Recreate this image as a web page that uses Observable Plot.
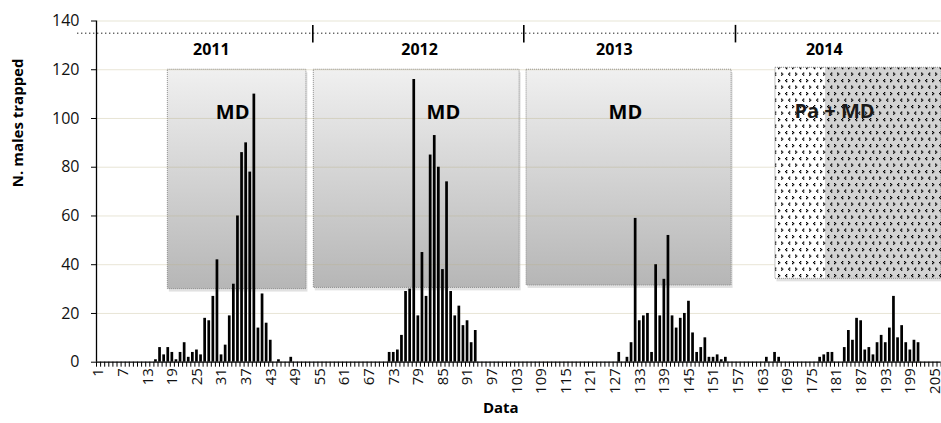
<!DOCTYPE html>
<html>
<head>
<meta charset="utf-8">
<script src="https://cdn.jsdelivr.net/npm/d3@7"></script>
<script src="https://cdn.jsdelivr.net/npm/@observablehq/plot@0.6"></script>
<style>
  body { margin: 0; background: #fff; }
  #chart { width: 941px; height: 423px; }
</style>
</head>
<body>
<svg width="0" height="0" style="position:absolute">
  <defs>
    <linearGradient id="mdGrad" x1="0" y1="0" x2="0" y2="1">
      <stop offset="0" stop-color="#f0f0f0"/>
      <stop offset="1" stop-color="#b6b6b6"/>
    </linearGradient>
    <pattern id="patW" width="14" height="13" patternUnits="userSpaceOnUse">
      <rect width="14" height="13" fill="#ffffff"/>
      <g fill="#000">
        <rect x="2" y="1" width="1.3" height="1.3"/><rect x="1" y="2" width="1.3" height="1.3"/><rect x="2" y="3" width="1.3" height="1.3"/>
        <rect x="8" y="1" width="1.3" height="1.3"/><rect x="9" y="2" width="1.3" height="1.3"/><rect x="8" y="3" width="1.3" height="1.3"/>
        <rect x="5" y="7.5" width="1.3" height="1.3"/><rect x="4" y="8.5" width="1.3" height="1.3"/><rect x="5" y="9.5" width="1.3" height="1.3"/>
        <rect x="11" y="7.5" width="1.3" height="1.3"/><rect x="12" y="8.5" width="1.3" height="1.3"/><rect x="11" y="9.5" width="1.3" height="1.3"/>
      </g>
    </pattern>
    <pattern id="patG" width="14" height="13" patternUnits="userSpaceOnUse">
      <rect width="14" height="13" fill="#d3d3d3"/>
      <g fill="#000">
        <rect x="2" y="1" width="1.3" height="1.3"/><rect x="1" y="2" width="1.3" height="1.3"/><rect x="2" y="3" width="1.3" height="1.3"/>
        <rect x="8" y="1" width="1.3" height="1.3"/><rect x="9" y="2" width="1.3" height="1.3"/><rect x="8" y="3" width="1.3" height="1.3"/>
        <rect x="5" y="7.5" width="1.3" height="1.3"/><rect x="4" y="8.5" width="1.3" height="1.3"/><rect x="5" y="9.5" width="1.3" height="1.3"/>
        <rect x="11" y="7.5" width="1.3" height="1.3"/><rect x="12" y="8.5" width="1.3" height="1.3"/><rect x="11" y="9.5" width="1.3" height="1.3"/>
      </g>
    </pattern>
  </defs>
</svg>
<div id="chart"></div>
<script>
// ---- data (week index along the "Data" axis, males trapped) ----
const weeks2011 = [15,16,17,18,19,20,21,22,23,24,25,26,27,28,29,30,31,32,33,34,35,36,37,38,39,40,41,42,43,45,48];
const counts2011 = [1,6,3,6,4,1,4,8,2,4,5,3,18,17,27,42,3,7,19,32,60,86,90,78,110,14,28,16,9,1,2];
const weeks2012 = [72,73,74,75,76,77,78,79,80,81,82,83,84,85,86,87,88,89,90,91,92,93];
const counts2012 = [4,4,5,11,29,30,116,19,45,27,85,93,80,38,74,29,19,23,15,17,8,13];
const weeks2013 = [128,130,131,132,133,134,135,136,137,138,139,140,141,142,143,144,145,146,147,148,149,150,151,152,153,154];
const counts2013 = [4,2,8,59,17,19,20,4,40,19,34,52,19,14,18,20,25,12,4,6,10,2,2,3,1,2];
const weeks2014 = [164,166,167,177,178,179,180,183,184,185,186,187,188,189,190,191,192,193,194,195,196,197,198,199,200,201];
const counts2014 = [2,4,2,2,3,4,4,6,13,9,18,17,5,6,3,8,11,8,14,27,10,15,8,5,9,8];

const years = ["2011", "2012", "2013", "2014"];
const yearCenter = [28.5, 79.3, 126.8, 178];
const yearLabelLevel = 128.2;
const yearBreaks = [53.26, 104.72, 156.35];
const referenceLevel = 135;

const treatments = ["MD", "MD", "MD", "Pa + MD"];
const treatStart = [17.9, 53.5, 105.4, 166.1];
const treatEnd = [51.7, 103.7, 155.4, 206.6];
const treatTop = [120, 120, 120, 120.8];
const treatBottom = [30, 30.5, 31.5, 34.2];
const treatLabelX = [33.7, 85.1, 129.5, 180.5];
const treatLabelY = [102.5, 102.5, 102.5, 102.9];
const pa2014End = 178.3;

const xTickLabels = d3.range(1, 206, 6);   // 1, 7, ..., 205
const yTicks = [0, 20, 40, 60, 80, 100, 120, 140];
const nWeeks = 206;

// ---- tables built from the arrays ----
const bars = [
  ...weeks2011.map((w, i) => ({w, v: counts2011[i]})),
  ...weeks2012.map((w, i) => ({w, v: counts2012[i]})),
  ...weeks2013.map((w, i) => ({w, v: counts2013[i]})),
  ...weeks2014.map((w, i) => ({w, v: counts2014[i]}))
];
const boxes = treatments.map((t, i) => ({t, x1: treatStart[i], x2: treatEnd[i], y1: treatBottom[i], y2: treatTop[i], lx: treatLabelX[i], ly: treatLabelY[i]}));
const mdBoxes = boxes.slice(0, 3);
const paBox = boxes.slice(3);
const yearRows = years.map((y, i) => ({y, x: yearCenter[i]}));
const boundaries = d3.range(0.5, nWeeks + 1, 1);

const plot = Plot.plot({
  width: 941,
  height: 423,
  marginLeft: 96,
  marginRight: 0.4,
  marginTop: 20.5,
  marginBottom: 61.3,
  x: {type: "linear", domain: [0.5, nWeeks + 0.5], axis: null},
  y: {domain: [0, 140], axis: null},
  style: {fontFamily: "'Open Sans', sans-serif", fontSize: "16px", color: "#000", background: "#fff", overflow: "visible"},
  marks: [
    // shadows
    Plot.rect(mdBoxes, {x1: "x1", x2: "x2", y1: "y1", y2: "y2", fill: "#888", fillOpacity: 0.25, dx: 1.5, dy: 3}),
    // MD boxes
    Plot.rect(mdBoxes, {x1: "x1", x2: "x2", y1: "y1", y2: "y2", fill: "url(#mdGrad)", stroke: "#8a8a8a", strokeWidth: 1, strokeDasharray: "1,1"}),
    // gridlines
    Plot.ruleY(yTicks.slice(1), {stroke: "#b8ae80", strokeOpacity: 0.32, strokeWidth: 1}),
    // Pa + MD box
    Plot.rect(paBox, {x1: "x1", x2: "x2", y1: "y1", y2: "y2", fill: "#888", fillOpacity: 0.25, dx: 1.5, dy: 3}),
    Plot.rect(paBox, {x1: "x1", x2: "x2", y1: "y1", y2: "y2", fill: "url(#patG)"}),
    Plot.rect(paBox, {x1: "x1", x2: pa2014End, y1: "y1", y2: "y2", fill: "url(#patW)"}),
    Plot.rect(paBox, {x1: "x1", x2: "x2", y1: "y1", y2: "y2", fill: "none", stroke: "#8a8a8a", strokeWidth: 1, strokeDasharray: "1,1"}),
    // bars
    Plot.rect(bars, {x1: d => d.w - 0.33, x2: d => d.w + 0.33, y1: 0, y2: "v", fill: "#000"}),
    // reference dotted line and year separators
    Plot.ruleY([referenceLevel], {x1: -4.1, x2: 206.6, stroke: "#000", strokeWidth: 1, strokeDasharray: "1.2,2.8"}),
    Plot.ruleX(yearBreaks, {y1: 131, y2: 138.2, stroke: "#000", strokeWidth: 1.6}),
    Plot.text(yearRows, {x: "x", y: yearLabelLevel, text: "y", fontWeight: "bold", fontSize: 16, fill: "#000", lineAnchor: "middle"}),
    // treatment labels
    Plot.text(mdBoxes, {x: "lx", y: "ly", text: "t", fontWeight: "bold", fontSize: 20, fill: "#000", lineAnchor: "middle"}),
    Plot.text(paBox, {x: "lx", y: "ly", text: "t", fontWeight: "bold", fontSize: 20, fill: "#1a1a1a", lineAnchor: "middle"}),
    // axes
    Plot.ruleX([0.5], {y1: 0, y2: 140, stroke: "#000", strokeWidth: 1.3}),
    Plot.ruleY([0], {stroke: "#000", strokeWidth: 1.3}),
    Plot.axisY({ticks: yTicks, tickSize: 5, tickPadding: 12, fontSize: 16, stroke: "#000", fill: "#111"}),
    Plot.axisX({ticks: boundaries, tickSize: 5, tickFormat: () => "", stroke: "#000"}),
    Plot.axisX({ticks: xTickLabels, tickSize: 0, tickPadding: 6, tickRotate: -90, fontSize: 15, fill: "#111", tickFormat: d => String(d)}),
    // axis titles
    Plot.text(["N. males trapped"], {frameAnchor: "left", dx: -78, dy: -4.4, rotate: -90, fontWeight: "bold", fontSize: 15, fill: "#000", lineAnchor: "middle"}),
    Plot.text(["Data"], {frameAnchor: "bottom", dx: -18, dy: 45.5, fontWeight: "bold", fontSize: 15, fill: "#000", lineAnchor: "middle"})
  ]
});
document.getElementById("chart").appendChild(plot);
</script>
</body>
</html>
